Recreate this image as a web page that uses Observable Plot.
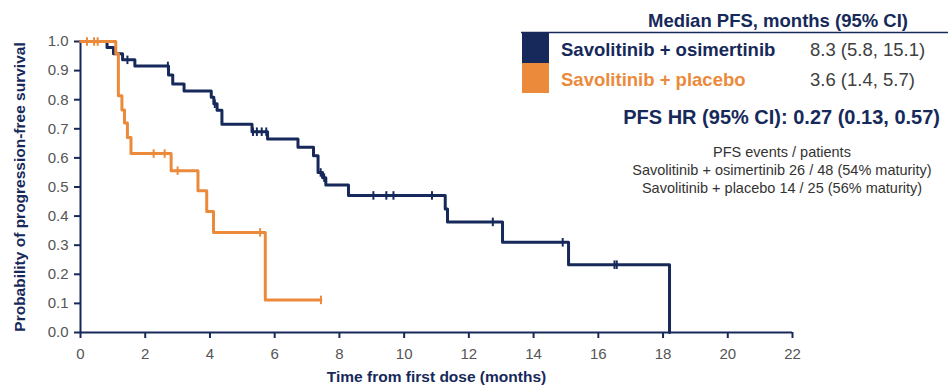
<!DOCTYPE html>
<html>
<head>
<meta charset="utf-8">
<script src="https://cdn.jsdelivr.net/npm/d3@7"></script>
<script src="https://cdn.jsdelivr.net/npm/@observablehq/plot@0.6"></script>
<style>
  html, body { margin: 0; padding: 0; background: #fff; }
  #chart { position: relative; width: 948px; height: 387px; }
  svg { font-family: "Liberation Sans", Arial, sans-serif; }
</style>
</head>
<body>
<div id="chart"></div>
<script>
// ---- Data ----
const osiTime = [0, 0.82, 1.02, 1.3, 1.68, 2.72, 2.85, 3.2, 4.04, 4.12, 4.22, 4.37, 5.3, 5.78, 6.72, 7.2, 7.34, 7.48, 7.58, 8.28, 11.27, 11.34, 13.04, 15.08, 18.2];
const osiSurv = [1, 0.979, 0.958, 0.937, 0.916, 0.885, 0.854, 0.83, 0.808, 0.786, 0.764, 0.716, 0.69, 0.665, 0.637, 0.607, 0.55, 0.532, 0.507, 0.471, 0.424, 0.38, 0.31, 0.233, 0];
const osiCensor = [1.45, 2.7, 4.15, 5.33, 5.45, 5.6, 5.74, 7.42, 7.53, 9.05, 9.45, 9.67, 10.86, 12.74, 14.9, 16.5, 16.57];

const pboTime = [0, 1.09, 1.17, 1.28, 1.36, 1.45, 1.56, 2.8, 3.63, 3.9, 4.11, 5.71, 7.43];
const pboSurv = [1, 0.958, 0.814, 0.765, 0.72, 0.67, 0.615, 0.556, 0.487, 0.416, 0.344, 0.112, 0.112];
const pboCensor = [0.2, 0.42, 0.53, 2.26, 2.6, 3.0, 5.55, 7.43];

const xTicks = [0, 2, 4, 6, 8, 10, 12, 14, 16, 18, 20, 22];
const yTicks = [0, 0.1, 0.2, 0.3, 0.4, 0.5, 0.6, 0.7, 0.8, 0.9, 1.0];

const seriesNames = ["Savolitinib + osimertinib", "Savolitinib + placebo"];
const medianValues = ["8.3 (5.8, 15.1)", "3.6 (1.4, 5.7)"];
const legendTitle = "Median PFS, months (95% CI)";
const hrText = "PFS HR (95% CI): 0.27 (0.13, 0.57)";
const eventsLines = ["PFS events / patients", "Savolitinib + osimertinib 26 / 48 (54% maturity)", "Savolitinib + placebo 14 / 25 (56% maturity)"];
const xTitle = "Time from first dose (months)";
const yTitle = "Probability of progression-free survival";

// ---- Styles ----
const navy = "#16295a";
const orange = "#ec8a3c";
const tickText = "#555555";

// ---- Build tables ----
const osiRows = osiTime.map((t, i) => ({t, s: osiSurv[i]}));
const pboRows = pboTime.map((t, i) => ({t, s: pboSurv[i]}));
function survAt(times, surv, t) {
  let v = surv[0];
  for (let i = 0; i < times.length; i++) if (times[i] <= t) v = surv[i];
  return v;
}
const osiCens = osiCensor.map(t => ({t, s: survAt(osiTime, osiSurv, t)}));
const pboCens = pboCensor.map(t => ({t, s: survAt(pboTime, pboSurv, t)}));

const vtick = {draw(ctx, size) { const h = Math.sqrt(size); ctx.moveTo(0, -h); ctx.lineTo(0, h); }};

const plot = Plot.plot({
  width: 948,
  height: 387,
  marginLeft: 80,
  marginRight: 156,
  marginTop: 41,
  marginBottom: 55,
  style: {fontFamily: "'Liberation Sans', Arial, sans-serif", fontSize: "15px", background: "white"},
  x: {domain: [0, 22]},
  y: {domain: [0, 1]},
  marks: [
    Plot.axisX({ticks: xTicks, tickSize: 6, tickPadding: 10, stroke: navy, strokeWidth: 2, fill: tickText, fontSize: 15, label: null}),
    Plot.axisY({ticks: yTicks, tickFormat: d3.format(".1f"), tickSize: 6, tickPadding: 6, stroke: navy, strokeWidth: 2, fill: tickText, fontSize: 15, label: null}),
    Plot.ruleX([0], {stroke: navy, strokeWidth: 2}),
    Plot.ruleY([0], {stroke: navy, strokeWidth: 2}),
    Plot.line(osiRows, {x: "t", y: "s", curve: "step-after", stroke: navy, strokeWidth: 3}),
    Plot.line(pboRows, {x: "t", y: "s", curve: "step-after", stroke: orange, strokeWidth: 3}),
    Plot.dot(osiCens, {x: "t", y: "s", symbol: vtick, r: 2.4, fill: "none", stroke: navy, strokeWidth: 2}),
    Plot.dot(pboCens, {x: "t", y: "s", symbol: vtick, r: 2.4, fill: "none", stroke: orange, strokeWidth: 2}),
    Plot.text([yTitle], {frameAnchor: "left", dx: -60, rotate: -90, textAnchor: "middle", lineAnchor: "middle", fontWeight: "bold", fontSize: 15.5, fill: navy}),
    Plot.text([xTitle], {frameAnchor: "bottom", dy: 45, textAnchor: "middle", lineAnchor: "middle", fontWeight: "bold", fontSize: 15.5, fill: navy})
  ]
});

document.getElementById("chart").appendChild(plot);

// ---- Legend / annotation block (top right) ----
const svg = d3.select(plot);
const g = svg.append("g").attr("font-family", "'Liberation Sans', Arial, sans-serif").attr("text-anchor", "start");
g.append("text").attr("x", 778).attr("y", 26.5).attr("text-anchor", "middle")
  .attr("font-size", 18.5).attr("font-weight", "bold").attr("fill", navy).text(legendTitle);
g.append("line").attr("x1", 521).attr("x2", 948).attr("y1", 32.5).attr("y2", 32.5)
  .attr("stroke", navy).attr("stroke-width", 1.5);
const colors = [navy, orange];
seriesNames.forEach((name, i) => {
  const top = 33 + i * 30;
  g.append("rect").attr("x", 522).attr("y", top).attr("width", 27).attr("height", 30).attr("fill", colors[i]);
  g.append("text").attr("x", 561).attr("y", top + 23).attr("text-anchor", "start").attr("font-size", 18.5).attr("font-weight", "bold")
    .attr("fill", colors[i]).text(name);
  g.append("text").attr("x", 810).attr("y", top + 23).attr("text-anchor", "start").attr("font-size", 18.5)
    .attr("fill", "#404040").text(medianValues[i]);
});
g.append("text").attr("x", 940).attr("y", 124).attr("text-anchor", "end")
  .attr("font-size", 20).attr("font-weight", "bold").attr("fill", navy).text(hrText);
eventsLines.forEach((line, i) => {
  g.append("text").attr("x", 782).attr("y", 157 + i * 18).attr("text-anchor", "middle")
    .attr("font-size", 14.5).attr("fill", "#333333").text(line);
});
</script>
</body>
</html>
